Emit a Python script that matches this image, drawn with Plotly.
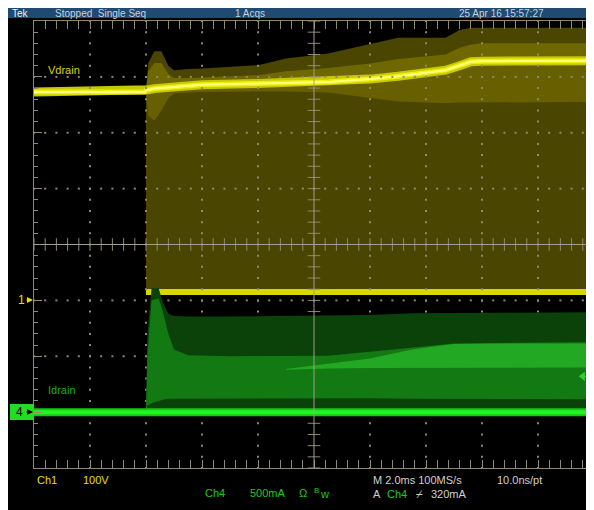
import numpy as np
import plotly.graph_objects as go

# ── Data ─────────────────────────────────────────────────────────────────────
# Ch1 Vdrain, volts, time in ms relative to trigger
VD_T_PRE = [-4, -0.05, 0]
VD_PRE = [373, 373, 376]

VD_T = [0, 0.08, 0.3, 0.55, 0.8, 1.0, 1.5, 2, 4, 5, 6.5, 8, 9, 10.7, 11.2, 11.6, 12, 16]
VD_TOP = [376, 425, 446, 446, 420, 412, 414, 415, 421, 433, 442, 458, 470, 470, 484, 488, 488, 488]
VD_UPPER_MID = [376, 410, 425, 425, 405, 398, 398, 399, 403, 410, 416, 424, 432, 440, 452, 458, 460, 460]
VD_MAIN = [376, 377, 379, 380, 381, 382, 384, 386, 388, 389, 391, 396, 401, 412, 420, 427, 428, 429]
VD_LOWER_MID = [376, 330, 322, 340, 362, 370, 372, 373, 374, 374, 372, 362, 356, 353, 354, 355, 355, 355]

VD_T_LOW = [0, 16]
VD_LOW = [15, 15]

# Ch4 Idrain, mA
ID_T_BASE = [-4, 16]
ID_BASE = [0, 0]

ID_T = [0, 0.05, 0.2, 0.45, 0.6, 0.8, 1.0, 1.5, 3, 5, 6.5, 8, 9.5, 11, 13, 16]
ID_TOP = [0, 700, 1110, 1110, 980, 880, 860, 855, 855, 860, 870, 870, 885, 890, 890, 895]
ID_MID_HI = [0, 500, 1000, 1020, 900, 700, 560, 510, 500, 500, 505, 540, 580, 615, 620, 625]
ID_MID_LO = [0, 60, 80, 100, 110, 120, 120, 120, 125, 125, 125, 125, 120, 115, 115, 115]

ID_T_B = [5, 6.5, 8, 9.5, 11, 13, 16]
ID_B_HI = [385, 430, 480, 560, 610, 615, 615]
ID_B_LO = [380, 390, 395, 400, 400, 400, 400]

ID_T_FLOOR = [0, 16]
ID_FLOOR = [0, 0]

TRIG_LEVEL = 320  # mA

# page body has an 8px margin, so the figure sits at (8, 8) in the window
OFF = 8
W, H = 594 - OFF, 510 - OFF
GRAT = "#8f8873"
FONT = "Liberation Sans, Arial, sans-serif"


def px(x):
    return (x - OFF) / W


def py(y):
    return 1 - (y - OFF) / H


def band(fig, t_hi, hi, t_lo, lo, color, yaxis="y"):
    fig.add_trace(go.Scatter(
        x=list(t_hi) + list(t_lo)[::-1], y=list(hi) + list(lo)[::-1],
        fill="toself", fillcolor=color, mode="lines",
        line=dict(width=0, color=color), yaxis=yaxis, hoverinfo="skip",
    ))


fig = go.Figure()

# ── Ch1 (yellow) ─────────────────────────────────────────────────────────────
band(fig, VD_T, VD_TOP, VD_T_LOW, VD_LOW, "#4a4500")
band(fig, VD_T, VD_UPPER_MID, VD_T, VD_MAIN, "#6f6800")
band(fig, VD_T, VD_MAIN, VD_T, VD_LOWER_MID, "#675f00")

for w, c in [(9, "#c8c800"), (5, "#eeee10"), (2, "#ffff80")]:
    fig.add_trace(go.Scatter(x=VD_T_PRE + VD_T[1:], y=VD_PRE + VD_MAIN[1:],
                             mode="lines", line=dict(color=c, width=w)))
fig.add_trace(go.Scatter(x=VD_T_LOW, y=VD_LOW, mode="lines",
                         line=dict(color="#d8d800", width=6)))

# ── Ch4 (green) ──────────────────────────────────────────────────────────────
band(fig, ID_T, ID_TOP, ID_T_FLOOR, ID_FLOOR, "#0a420a", "y2")
band(fig, ID_T, ID_MID_HI, ID_T, ID_MID_LO, "#137a13", "y2")
band(fig, ID_T_B, ID_B_HI, ID_T_B, ID_B_LO, "#22a822", "y2")

for w, c in [(8, "#14c814"), (4, "#22f522")]:
    fig.add_trace(go.Scatter(x=ID_T_BASE, y=ID_BASE, mode="lines", yaxis="y2",
                             line=dict(color=c, width=w)))

# trigger level marker on the right edge
fig.add_trace(go.Scatter(x=[15.6, 16], y=[TRIG_LEVEL, TRIG_LEVEL], mode="lines",
                         yaxis="y2", line=dict(color="#30d030", width=1.5),
                         cliponaxis=False))
fig.add_trace(go.Scatter(x=[15.6], y=[TRIG_LEVEL], mode="markers", yaxis="y2",
                         marker=dict(symbol="triangle-left", size=8, color="#30d030"),
                         cliponaxis=False))

# ── Graticule ────────────────────────────────────────────────────────────────
major_t = [-2, 0, 2, 4, 8, 10, 12, 14]
major_v = [-200, -100, 0, 200, 300, 400]
v_minor = np.arange(-300, 501, 20)
t_minor = np.arange(-4, 16.01, 0.4)

dx, dy = [], []
for t in major_t:
    dx += [t] * len(v_minor)
    dy += list(v_minor)
for v in major_v:
    dx += list(t_minor)
    dy += [v] * len(t_minor)
fig.add_trace(go.Scatter(x=dx, y=dy, mode="markers",
                         marker=dict(symbol="square", size=2, color=GRAT)))

fig.add_trace(go.Scatter(x=[6] * len(v_minor), y=v_minor, mode="markers",
                         marker=dict(symbol="line-ew", size=9,
                                     line=dict(width=1, color=GRAT))))
fig.add_trace(go.Scatter(x=t_minor, y=[100] * len(t_minor), mode="markers",
                         marker=dict(symbol="line-ns", size=9,
                                     line=dict(width=1, color=GRAT))))

# trigger position marker
fig.add_trace(go.Scatter(x=[0], y=[502], mode="markers", cliponaxis=False,
                         marker=dict(symbol="triangle-down", size=10, color="#ff6a30")))

shapes = [
    dict(type="rect", xref="paper", yref="paper", x0=0, x1=1, y0=0, y1=py(18),
         fillcolor="black", line_width=0, layer="below"),
    dict(type="rect", xref="paper", yref="paper", x0=0, x1=1, y0=py(18), y1=1,
         fillcolor="#1f4b73", line_width=0, layer="below"),
    dict(type="line", xref="x", yref="y", x0=6, x1=6, y0=-300, y1=500,
         line=dict(color="#a59e88", width=1), layer="above"),
    dict(type="line", xref="x", yref="y", x0=-4, x1=16, y0=100, y1=100,
         line=dict(color="#a59e88", width=1), layer="above"),
    # channel 4 ground marker box
    dict(type="rect", xref="paper", yref="paper", x0=px(10), x1=px(34),
         y0=py(420), y1=py(404), fillcolor="#22dd22", line_width=0, layer="above"),
]

ann = []


def txt(x, y, s, color, size=12, anchor="left", **kw):
    ann.append(dict(x=px(x), y=py(y), xref="paper", yref="paper", text=s,
                    showarrow=False, xanchor=anchor, yanchor="middle",
                    font=dict(family=FONT, size=size, color=color), **kw))


def arrow(x, y, color, length=8):
    ann.append(dict(x=px(x), y=py(y), xref="paper", yref="paper", text="",
                    showarrow=True, ax=-length, ay=0, arrowhead=2, arrowsize=1,
                    arrowwidth=1.2, arrowcolor=color))


# top status bar
txt(10, 13.5, "Tek", "#eeeeee", 10)
txt(53, 13.5, "Stopped  Single Seq", "#c8d0d8", 10)
txt(233, 13.5, "1 Acqs", "#c8d0d8", 10)
txt(457, 13.5, "25 Apr 16 15:57:27", "#c8d0d8", 10)

# waveform labels
txt(46, 70, "Vdrain", "#d8d800", 11)
txt(46, 390, "Idrain", "#1faa1f", 11)
txt(16, 300, "1", "#e0e000", 12)
arrow(33, 300, "#e0e000")
txt(14, 412, "4", "#000000", 12)
arrow(33, 412, "#000000")

# bottom readouts
txt(35, 480, "Ch1", "#e0e000", 11)
txt(81, 480, "100V", "#e0e000", 11)
txt(203, 493, "Ch4", "#22c822", 11)
txt(248, 493, "500mA", "#22c822", 11)
txt(297, 493, "Ω", "#22c822", 11)
txt(312, 490, "B", "#22c822", 8)
txt(318, 494, "w", "#22c822", 11)
txt(371, 480, "M 2.0ms 100MS/s", "#d0d0d0", 11)
txt(495, 480, "10.0ns/pt", "#d0d0d0", 11)
txt(371, 494, "A", "#d0d0d0", 11)
txt(385, 494, "Ch4", "#22c822", 11)
txt(414, 494, "⌿", "#d0d0d0", 11)
txt(429, 494, "320mA", "#d0d0d0", 11)

axis_common = dict(showgrid=False, zeroline=False, showticklabels=False,
                   showline=True, linecolor=GRAT, linewidth=1, mirror="allticks",
                   ticks="inside", ticklen=8, tickcolor=GRAT, tickwidth=1)

fig.update_layout(
    width=W, height=H,
    margin=dict(l=0, r=0, t=0, b=0),
    paper_bgcolor="white", plot_bgcolor="black",
    showlegend=False,
    xaxis=dict(range=[-4, 16], domain=[px(34), 1], dtick=2, tick0=-4,
               minor=dict(ticks="inside", ticklen=4, dtick=0.4, tick0=-4,
                          tickcolor=GRAT, showgrid=False),
               **axis_common),
    yaxis=dict(range=[-300, 500], domain=[py(468), py(21)], dtick=100, tick0=-300,
               minor=dict(ticks="inside", ticklen=4, dtick=20, tick0=-300,
                          tickcolor=GRAT, showgrid=False),
               **axis_common),
    yaxis2=dict(range=[-500, 3500], overlaying="y", visible=False),
    shapes=shapes,
    annotations=ann,
)

fig.write_html("out.html")
